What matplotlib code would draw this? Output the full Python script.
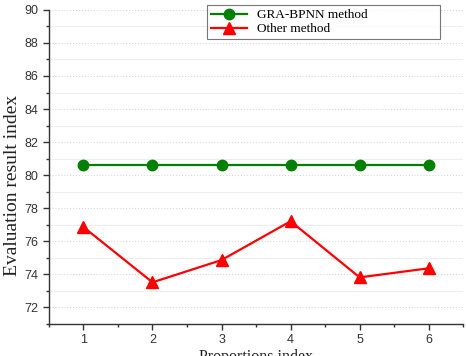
import numpy as np
import matplotlib.pyplot as plt
from matplotlib.ticker import MultipleLocator

# data
proportions = [1, 2, 3, 4, 5, 6]
graBpnn = [80.6, 80.6, 80.6, 80.6, 80.6, 80.6]
otherMethod = [76.85, 73.5, 74.85, 77.2, 73.8, 74.35]

fig = plt.figure(figsize=(4.66, 3.56), dpi=100)
ax = fig.add_axes([0.105, 0.091, 0.889, 0.881])

ax.plot(proportions, graBpnn, color='#008000', marker='o', markersize=7.5, linewidth=1.6, label='GRA-BPNN method')
ax.plot(proportions, otherMethod, color='#ff0000', marker='^', markersize=8, linewidth=1.6, label='Other method')

ax.set_xlim(0.5, 6.5)
ax.set_ylim(71, 90)
ax.xaxis.set_major_locator(MultipleLocator(1))
ax.xaxis.set_minor_locator(MultipleLocator(0.5))
ax.yaxis.set_major_locator(MultipleLocator(2))
ax.yaxis.set_minor_locator(MultipleLocator(1))
ax.set_yticks(np.arange(72, 91, 2))

# light grid lines
ax.grid(which='major', axis='y', color='#d8d8d8', linestyle=':', linewidth=0.8)
ax.grid(which='minor', axis='y', color='#eeeeee', linestyle='-', linewidth=0.8)
ax.set_axisbelow(True)

for s in ['top', 'right']:
    ax.spines[s].set_visible(False)
for s in ['left', 'bottom']:
    ax.spines[s].set_color('#333333')
    ax.spines[s].set_linewidth(1.0)

ax.tick_params(which='major', length=4, width=1, color='#333333', labelsize=9, labelcolor='#333333')
ax.tick_params(which='minor', length=2.5, width=1, color='#333333')
for lab in ax.get_xticklabels() + ax.get_yticklabels():
    lab.set_fontfamily('Liberation Sans')

ax.set_xlabel('Proportions index', fontfamily='Liberation Serif', fontsize=11.5, color='#222222', labelpad=2)
ax.set_ylabel('Evaluation result index', fontfamily='Liberation Serif', fontsize=14, color='#222222')
ax.yaxis.set_label_coords(-0.068, 0.44)

leg = ax.legend(loc='upper left', bbox_to_anchor=(0.382, 1.016, 0.563, 0), mode='expand',
                prop={'family': 'Liberation Serif', 'size': 9.5},
                frameon=True, fancybox=False, edgecolor='#555555', borderpad=0.3, labelspacing=0.15,
                handlelength=2.7, handletextpad=0.8, borderaxespad=0)
leg.get_frame().set_linewidth(0.8)

plt.savefig('out.png', dpi=100)
